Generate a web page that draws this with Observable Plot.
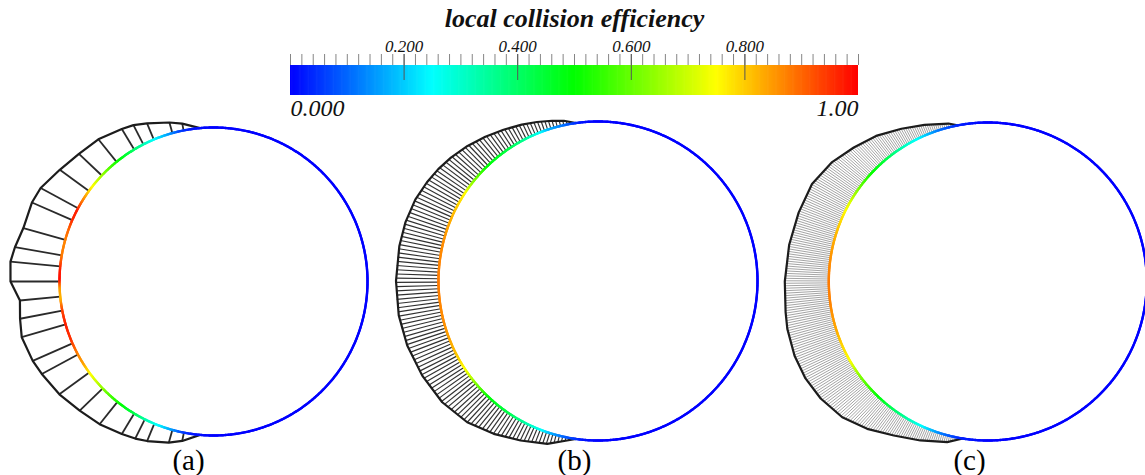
<!DOCTYPE html>
<html><head><meta charset="utf-8">
<script src="https://cdn.jsdelivr.net/npm/d3@7"></script>
<script src="https://cdn.jsdelivr.net/npm/@observablehq/plot@0.6"></script>
<style>
body{margin:0;background:#fff}
#wrap{position:relative;width:1145px;height:475px;overflow:hidden}
#wrap svg{position:absolute;left:0;top:0}
</style></head><body><div id="wrap"></div>
<script>
// ---------------- DATA ----------------
const panels = ["(a)", "(b)", "(c)"];
const barTitle = "local collision efficiency";
const barTicks = [0.2, 0.4, 0.6, 0.8];
const barEnds = [0, 1];
const barEndLabels = ["0.000", "1.00"];
const cmapStops = [0, 0.25, 0.5, 0.75, 1];
const cmapColors = ["#0000ff", "#00ffff", "#00ff00", "#ffff00", "#ff0000"];

// (a): individual radial lines — surface angle (deg from stagnation point, + = up) and ice thickness
const aLineAngle = [78.8, 74.5, 67.2, 62.9, 59, 51, 43.5, 36, 28.4, 23.5, 15.7, 9.8, 5.6, 0, -5.6, -10.9, -16.2, -23.7, -28.3, -36.2, -44, -51.4, -59, -63.5, -67.4, -74.5, -78.9];
const aLineThick = [7, 11, 17.5, 21.7, 24, 29, 31.5, 36, 42.5, 44, 43.5, 47.5, 50, 49, 40.5, 43, 45.7, 43.4, 41, 37, 32, 28.6, 24, 21.5, 18.8, 13.3, 8.5];
const aJoin = [85, -85];

// (b), (c): ice envelope (angle, thickness)
const bEnvAngle = [-82, -79, -72.7, -64.1, -55.7, -47.2, -37.9, -28.3, -18.7, -9.8, 0, 10, 17, 24, 30, 35, 40, 46, 52, 58, 64, 69, 74, 78, 82];
const bEnvThick = [0, 3, 11.1, 17.8, 25.5, 33, 37.9, 40.1, 41.9, 42.7, 42.5, 42.2, 41.8, 40.5, 38, 35.5, 32.5, 28.3, 23.5, 18.8, 14.5, 10.8, 7.2, 4.3, 0];
const cEnvAngle = [-81, -75.8, -67, -58.6, -50.7, -43, -35, -28, -21, -13.3, -8.6, 0, 10.5, 20, 29, 37.5, 45, 52.5, 60.5, 68, 76, 79];
const cEnvThick = [0, 6.7, 13.7, 21.4, 31.4, 40, 45, 47.5, 48, 47, 45.5, 44, 43, 42.3, 42, 37.2, 30.5, 24.5, 16.5, 10, 3.8, 0];

// local collision efficiency along the surface
const aEffAngle = [-90, -82, -78, -74, -67, -63, -59, -51, -44, -40, -36, -32, -27, -22, -16, -10, -6, -2, 1, 5, 10, 15, 20, 24, 28, 32, 36, 40, 44, 51, 59, 63, 67, 74, 78, 82, 90];
const aEff = [0, 0.02, 0.06, 0.15, 0.27, 0.34, 0.42, 0.52, 0.63, 0.70, 0.76, 0.84, 0.88, 0.95, 0.97, 0.93, 0.82, 0.85, 0.99, 0.97, 0.88, 0.87, 0.90, 0.96, 0.97, 0.88, 0.80, 0.72, 0.65, 0.52, 0.40, 0.33, 0.26, 0.14, 0.06, 0.02, 0];
const bEffAngle = [-90, -84, -77, -72, -69, -63, -56, -46, -40, -35, -31, -25, -15, 0, 15, 25, 31, 34, 38, 42, 46, 56, 63, 69, 72, 77, 84, 90];
const bEff = [0, 0.02, 0.1, 0.18, 0.25, 0.33, 0.42, 0.5, 0.62, 0.72, 0.77, 0.82, 0.86, 0.88, 0.86, 0.82, 0.78, 0.75, 0.65, 0.58, 0.5, 0.43, 0.35, 0.25, 0.18, 0.12, 0.02, 0];
const cEffAngle = [-90, -80, -72, -65, -58, -48, -42, -36, -30, -25, -18, -8, 0, 8, 18, 25, 30, 36, 42, 49, 58, 64, 72, 80, 90];
const cEff = [0, 0.03, 0.13, 0.25, 0.35, 0.47, 0.55, 0.63, 0.74, 0.78, 0.83, 0.87, 0.88, 0.86, 0.82, 0.77, 0.72, 0.62, 0.52, 0.45, 0.32, 0.25, 0.12, 0.03, 0];

// ---------------- LAYOUT ----------------
const W = 1145, H = 475;
const layout = {
  "(a)": {cx: 213, cy: 281, r: 154, labelX: 188},
  "(b)": {cx: 597.5, cy: 280.5, r: 159.5, labelX: 574, step: 1.2, stroke: "#1a1a1a", sw: 1.15},
  "(c)": {cx: 987.3, cy: 281, r: 159, labelX: 969, step: 0.7, stroke: "#9a9a9a", sw: 0.9}
};
const rad = Math.PI / 180;
function pt(p, theta, d) {
  const L = layout[p], rr = L.r + d;
  return {x: L.cx - rr * Math.cos(theta * rad), y: L.cy - rr * Math.sin(theta * rad)};
}
function interp(xs, ys, t) {
  if (t < xs[0] || t > xs[xs.length - 1]) return 0;
  let i = d3.bisectRight(xs, t) - 1;
  if (i >= xs.length - 1) return ys[ys.length - 1];
  const f = (t - xs[i]) / (xs[i + 1] - xs[i]);
  return ys[i] + f * (ys[i + 1] - ys[i]);
}
const profiles = {"(a)": [aEffAngle, aEff], "(b)": [bEffAngle, bEff], "(c)": [cEffAngle, cEff]};
const envs = {"(b)": [bEnvAngle, bEnvThick], "(c)": [cEnvAngle, cEnvThick]};

// colored surface
const arcSegs = [];
for (const p of panels) {
  const [xa, ya] = profiles[p];
  for (let k = 0; k < 720; k++) {
    const t = -180 + k * 0.5;
    const a = pt(p, t, 0), b = pt(p, t + 0.5, 0);
    arcSegs.push({x1: a.x, y1: a.y, x2: b.x, y2: b.y, e: interp(xa, ya, t + 0.25)});
  }
}
// radial lines
const aLines = aLineAngle.map((t, i) => {
  const a = pt("(a)", t, 0), b = pt("(a)", t, aLineThick[i]);
  return {x1: a.x, y1: a.y, x2: b.x, y2: b.y};
});
const hatch = {"(b)": [], "(c)": []};
for (const p of ["(b)", "(c)"]) {
  const [xa, ya] = envs[p];
  const n = Math.floor((xa[xa.length - 1] - xa[0]) / layout[p].step);
  for (let k = 1; k < n; k++) {
    const t = xa[0] + k * layout[p].step;
    const d = interp(xa, ya, t);
    if (d < 1) continue;
    const a = pt(p, t, 0), b = pt(p, t, d);
    hatch[p].push({x1: a.x, y1: a.y, x2: b.x, y2: b.y});
  }
}
// envelopes
const envPts = [];
[{t: aJoin[0], d: 0}, ...aLineAngle.map((t, i) => ({t, d: aLineThick[i]})), {t: aJoin[1], d: 0}]
  .forEach(o => envPts.push({...pt("(a)", o.t, o.d), panel: "(a)"}));
for (const p of ["(b)", "(c)"]) {
  const [xa, ya] = envs[p];
  xa.forEach((t, i) => envPts.push({...pt(p, t, ya[i]), panel: p}));
}

const colorScale = {type: "linear", domain: cmapStops, range: cmapColors, interpolate: "rgb"};

const main = Plot.plot({
  width: W, height: H, margin: 0,
  x: {domain: [0, W], range: [0, W], axis: null},
  y: {domain: [0, H], range: [0, H], axis: null},
  color: colorScale,
  style: {background: "transparent"},
  marks: [
    Plot.link(hatch["(c)"], {x1: "x1", y1: "y1", x2: "x2", y2: "y2", stroke: layout["(c)"].stroke, strokeWidth: layout["(c)"].sw}),
    Plot.link(hatch["(b)"], {x1: "x1", y1: "y1", x2: "x2", y2: "y2", stroke: layout["(b)"].stroke, strokeWidth: layout["(b)"].sw, strokeOpacity: 0.9}),
    Plot.link(aLines, {x1: "x1", y1: "y1", x2: "x2", y2: "y2", stroke: "#2a2a2a", strokeWidth: 1.8}),
    Plot.line(envPts, {x: "x", y: "y", z: "panel", stroke: "#1c1c1c", strokeWidth: 2.2, strokeLinejoin: "round"}),
    Plot.link(arcSegs, {x1: "x1", y1: "y1", x2: "x2", y2: "y2", stroke: "e", strokeWidth: 2.4, strokeLinecap: "round"}),
    Plot.text(panels, {x: d => layout[d].labelX, y: 460, text: d => d, fontFamily: "Liberation Serif", fontSize: 29, fill: "#000"})
  ]
});

// colour bar
const barRight = 858, barLeft = 290;
const steps = d3.range(0, 500);
const minor = d3.range(0, 51).map(i => i / 50);
const endText = {fontFamily: "Liberation Serif", fontStyle: "italic", fontSize: 24, fill: "#111"};
const bar = Plot.plot({
  width: W, height: 125, marginLeft: barLeft, marginRight: W - barRight, marginTop: 0, marginBottom: 0,
  x: {domain: [0, 1], axis: null},
  y: {domain: [0, 125], range: [0, 125], axis: null},
  color: colorScale,
  style: {background: "transparent", overflow: "visible"},
  marks: [
    Plot.rect(steps, {x1: i => i / 500, x2: i => Math.min(1, (i + 1.6) / 500), y1: 65, y2: 95, fill: i => (i + 0.5) / 500}),
    Plot.ruleX(minor, {y1: 54, y2: 65, stroke: "#858585", strokeWidth: 1}),
    Plot.ruleX(barTicks, {y1: 54, y2: 80, stroke: "#555", strokeWidth: 1}),
    Plot.text(barTicks, {x: d => d, y: 46, text: d => d.toFixed(3), fontFamily: "Liberation Serif", fontStyle: "italic", fontSize: 17, fill: "#111"}),
    Plot.text([barEnds[0]], {x: d => d, y: 108, text: () => barEndLabels[0], textAnchor: "start", ...endText}),
    Plot.text([barEnds[1]], {x: d => d, y: 108, text: () => barEndLabels[1], textAnchor: "end", ...endText}),
    Plot.text([barTitle], {x: 0.5, y: 18, text: d => d, fontFamily: "Liberation Serif", fontStyle: "italic", fontWeight: "bold", fontSize: 26, fill: "#111"})
  ]
});
const wrap = document.getElementById("wrap");
wrap.appendChild(main);
wrap.appendChild(bar);
</script>
</body></html>
